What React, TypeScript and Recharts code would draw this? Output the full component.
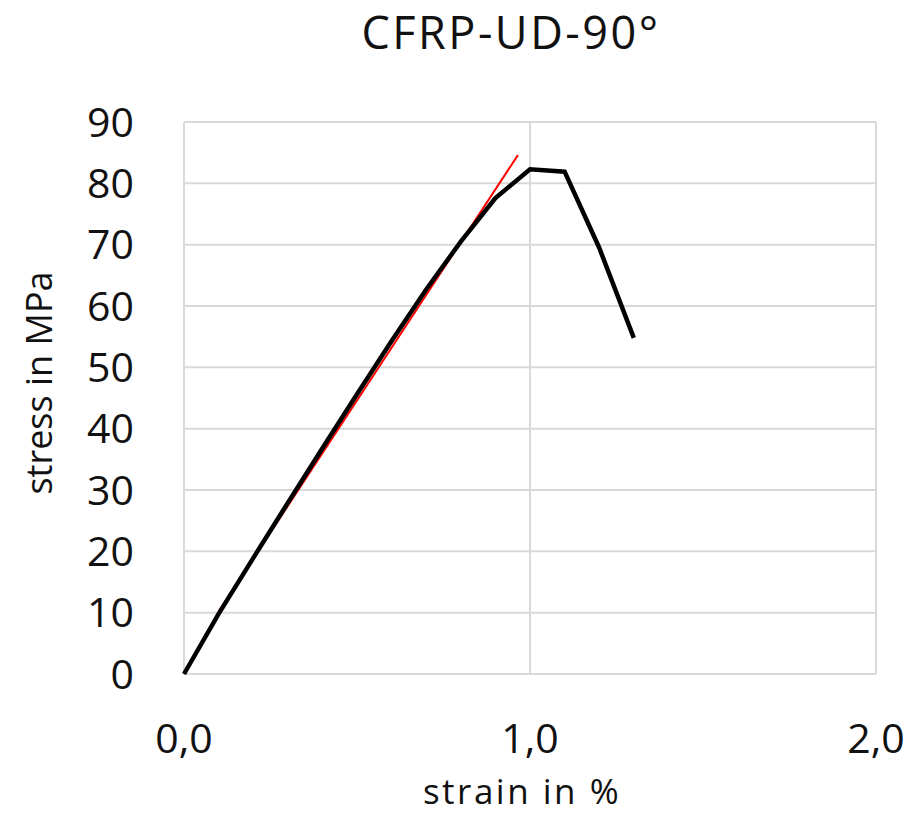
import { LineChart, Line, XAxis, YAxis, CartesianGrid } from "recharts";

// measured curve (strain in %, stress in MPa)
const strain = [0, 0.1, 0.2, 0.3, 0.4, 0.5, 0.6, 0.7, 0.8, 0.9, 1.0, 1.1, 1.2, 1.3];
const stress = [0, 9.8, 18.9, 27.9, 36.8, 45.6, 54.3, 62.7, 70.5, 77.6, 82.3, 81.9, 69.5, 54.8];

// red linear fit
const fitStrain = [0.1, 0.965];
const fitStress = [10.2, 84.6];

const xTicks = [0, 1, 2];
const yTicks = [0, 10, 20, 30, 40, 50, 60, 70, 80, 90];

const FONT = "'Open Sans', 'Noto Sans', sans-serif";

const curve = strain.map((x, i) => ({ x, y: stress[i] }));
const fit = fitStrain.map((x, i) => ({ x, y: fitStress[i] }));

const fmtX = (v: number) => v.toFixed(1).replace(".", ",");

const YTitle = () => (
  <text
    x={38}
    y={383}
    transform="rotate(-90, 38, 383)"
    textAnchor="middle"
    dominantBaseline="central"
    fontSize={36}
    fontFamily={FONT}
    fill="#111"
  >
    stress in MPa
  </text>
);

const XTitle = () => (
  <text
    x={522}
    y={804}
    textAnchor="middle"
    fontSize={35}
    letterSpacing={2.5}
    fontFamily={FONT}
    fill="#111"
  >
    strain in %
  </text>
);

export default function App() {
  return (
    <div style={{ position: "absolute", left: 0, top: 0, width: 911, height: 815, background: "#fff" }}>
      <div
        style={{
          position: "absolute",
          left: 0,
          top: 1,
          width: 1022,
          textAlign: "center",
          fontFamily: FONT,
          fontSize: 45,
          letterSpacing: 2.5,
          lineHeight: "normal",
          color: "#111",
        }}
      >
        CFRP-UD-90°
      </div>
      <LineChart width={911} height={815} margin={{ top: 122, right: 35, bottom: 0, left: 0 }}>
        <CartesianGrid stroke="#d9d9d9" strokeWidth={2} />
        <XAxis
          type="number"
          dataKey="x"
          domain={[0, 2]}
          ticks={xTicks}
          tickFormatter={fmtX}
          axisLine={false}
          tickLine={false}
          tickMargin={44}
          height={141}
          tick={{ fontSize: 41, fill: "#111", fontFamily: FONT }}
          label={{ content: () => <XTitle /> }}
        />
        <YAxis
          type="number"
          domain={[0, 90]}
          ticks={yTicks}
          axisLine={false}
          tickLine={false}
          tickMargin={44}
          width={184}
          tick={{ fontSize: 41, fill: "#111", fontFamily: FONT }}
          label={{ content: () => <YTitle /> }}
        />
        <Line
          data={fit}
          dataKey="y"
          stroke="#ff0000"
          strokeWidth={2}
          dot={false}
          activeDot={false}
          isAnimationActive={false}
        />
        <Line
          data={curve}
          dataKey="y"
          stroke="#000"
          strokeWidth={4.5}
          dot={false}
          activeDot={false}
          isAnimationActive={false}
        />
      </LineChart>
    </div>
  );
}
